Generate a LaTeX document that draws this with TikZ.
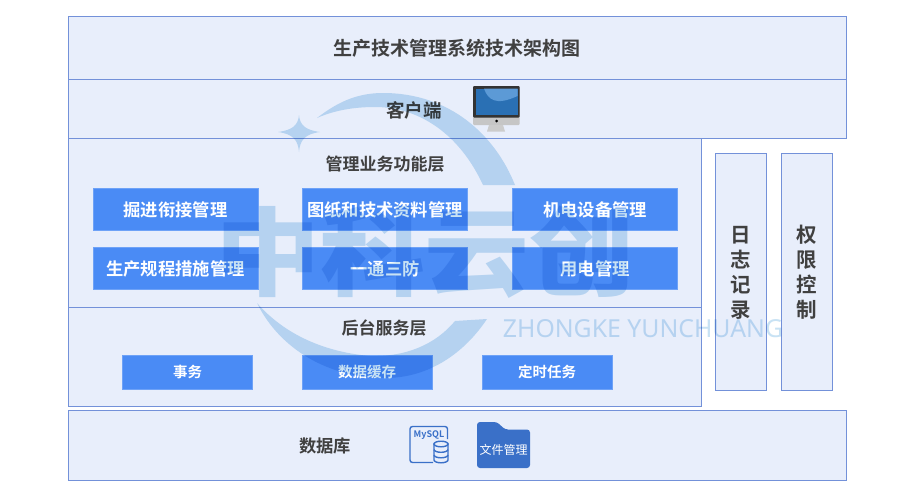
\documentclass[tikz,border=0pt]{standalone}
\usepackage{fontspec}
\setmainfont{Noto Sans CJK SC}[BoldFont={* Bold}]
\newfontfamily\latinmark{Noto Sans}
\newfontfamily\heavymark{Noto Sans CJK SC Black}
\usepackage{tikz}
\definecolor{layerfill}{HTML}{E8EEFB}
\definecolor{layerline}{HTML}{7391D9}
\definecolor{modfill}{HTML}{4A8BF5}
\definecolor{labeltext}{HTML}{404040}
\definecolor{markblue}{HTML}{C8E2F4}
\definecolor{iconblue}{HTML}{3A70C8}
\definecolor{screenblue}{HTML}{2A70B4}
\definecolor{sweepblue}{HTML}{5C9AD6}
\tikzset{
  layer/.style={draw=layerline,fill=layerfill,line width=0.9pt,inner sep=0pt},
  heading/.style={text=labeltext,font=\bfseries,inner sep=0pt},
  module/.style={fill=modfill,draw=modfill!80!white,line width=0.4pt,text=white,font=\fontsize{17.3}{17}\selectfont\bfseries,
    text height=16.6pt,text depth=2pt,minimum width=165pt,minimum height=42pt,inner sep=0pt},
  service/.style={module,font=\fontsize{14.5}{15}\selectfont\bfseries,text height=12.5pt,text depth=1.5pt,
    minimum width=130pt,minimum height=34pt},
  sidebar/.style={layer,minimum width=51pt,minimum height=237pt},
  sidetext/.style={heading,font=\fontsize{20.5}{25}\selectfont\bfseries,align=center},
  watermark/.style={fill=markblue,draw=none}
}
\begin{document}
\begin{tikzpicture}[x=1pt,y=-1pt]
\useasboundingbox (0,0) rectangle (906,498);
\fill[white] (0,0) rectangle (906,498);
% layers, top to bottom
\node[layer,minimum width=778pt,minimum height=63pt] (titleband) at (457,47.5) {};
\node[layer,minimum width=778pt,minimum height=59pt] (clientband) at (457,108.5) {};
\node[layer,minimum width=633pt,minimum height=169pt] (bizband) at (384.5,222.5) {};
\node[layer,minimum width=633pt,minimum height=99pt] (srvband) at (384.5,356.5) {};
\node[layer,minimum width=778pt,minimum height=70pt] (dbband) at (457,445) {};
\node[heading,font=\fontsize{19}{19}\selectfont\bfseries] (titletext) at (456.5,48) {生产技术管理系统技术架构图};
\node[heading,font=\fontsize{18.5}{19}\selectfont\bfseries] (clienttext) at (414,110) {客户端};
\node[heading,font=\fontsize{17}{17}\selectfont\bfseries] (biztext) at (385,164) {管理业务功能层};
\node[heading,font=\fontsize{17}{17}\selectfont\bfseries] (srvtext) at (384,328) {后台服务层};
\node[heading,font=\fontsize{17.3}{17}\selectfont\bfseries] (dbtext) at (325,446) {数据库};
% side columns
\node[sidebar] (logbar) at (741,271.5) {};
\node[sidebar] (authbar) at (807,271.5) {};
\node[sidetext] (logtext) at (741,272.5) {日\\志\\记\\录};
\node[sidetext] (authtext) at (806.5,272.5) {权\\限\\控\\制};
% function modules
\node[module] (modA) at (175.5,209) {掘进衔接管理};
\node[module] (modB) at (385,209) {图纸和技术资料管理};
\node[module] (modC) at (595,209) {机电设备管理};
\node[module] (modD) at (175.5,268) {生产规程措施管理};
\node[module] (modE) at (385,268) {一通三防};
\node[module] (modF) at (595,268) {用电管理};
% service modules
\node[service] (srvA) at (187.5,372) {事务};
\node[service] (srvB) at (367,372) {数据缓存};
\node[service] (srvC) at (547,372) {定时任务};
% monitor
\fill[rounded corners=1pt,gray!45] (473,86) rectangle (519.5,125);
\fill[rounded corners=1pt,black!80] (473,86) rectangle (519.5,117.5);
\fill[screenblue] (475.5,88.5) rectangle (517.5,115);
\fill[sweepblue] (484,88.5) .. controls (488,100) and (496,106) .. (517.5,96) -- (517.5,88.5) -- cycle;
\fill[black] (496.5,121) circle (1.5pt);
\fill[gray!40] (489,125) -- (503,125) -- (505,131.5) -- (487,131.5) -- cycle;
% mysql icon
\draw[iconblue,line width=1.4pt,rounded corners=2.5pt] (433,462.5) -- (410,462.5) -- (410,426.5) -- (447.5,426.5) -- (447.5,439);
\node[text=iconblue,inner sep=0pt,font=\fontsize{9}{9}\selectfont\bfseries] (mysqltext) at (429,435) {MySQL};
\draw[iconblue,line width=1.4pt,fill=layerfill] (434,444) -- (434,460) arc[start angle=180,end angle=0,x radius=7,y radius=2.8] -- (448,444) -- cycle;
\draw[iconblue,line width=1.4pt,fill=layerfill] (441,444) ellipse (7 and 2.8);
\draw[iconblue,line width=1.4pt] (434,449.5) arc[start angle=180,end angle=0,x radius=7,y radius=2.8]
  (434,455) arc[start angle=180,end angle=0,x radius=7,y radius=2.8];
% folder icon
\fill[iconblue,rounded corners=3pt] (477,468) -- (477,422) -- (497,422) -- (505,429.5) -- (530,429.5) -- (530,468) -- cycle;
\node[text=white,inner sep=0pt,font=\fontsize{12}{12}\selectfont] (foldertext) at (503.5,449.5) {文件管理};
% logo over everything
\begin{scope}[blend mode=multiply]
\fill[watermark] (317,118) .. controls (340,100) and (360,93) .. (383,93) .. controls (450,93) and (495,135) .. (515,185)
  -- (483,185) .. controls (460,135) and (420,107) .. (375,107) .. controls (355,107) and (335,110) .. (317,118) -- cycle;
\fill[watermark] (257,303) .. controls (280,350) and (330,378) .. (385,378) .. controls (430,378) and (465,352) .. (487,319)
  -- (455,321) .. controls (435,345) and (405,357) .. (370,356) .. controls (325,352) and (285,335) .. (257,303) -- cycle;
\fill[watermark] (299,115) .. controls (300,125) and (305,130) .. (320,132) .. controls (305,134) and (300,140) .. (299,152)
  .. controls (298,140) and (293,134) .. (278,132) .. controls (293,130) and (298,125) .. (299,115) -- cycle;
\node[text=markblue,inner sep=0pt,xscale=1.05,yscale=0.96,font=\heavymark\fontsize{100}{100}\selectfont] (marktext) at (425,252) {中科云创};
\node[text=markblue,inner sep=0pt,font=\latinmark\fontsize{24.8}{25}\selectfont] (markword) at (643,329) {ZHONGKE YUNCHUANG};
\end{scope}
\end{tikzpicture}
\end{document}
